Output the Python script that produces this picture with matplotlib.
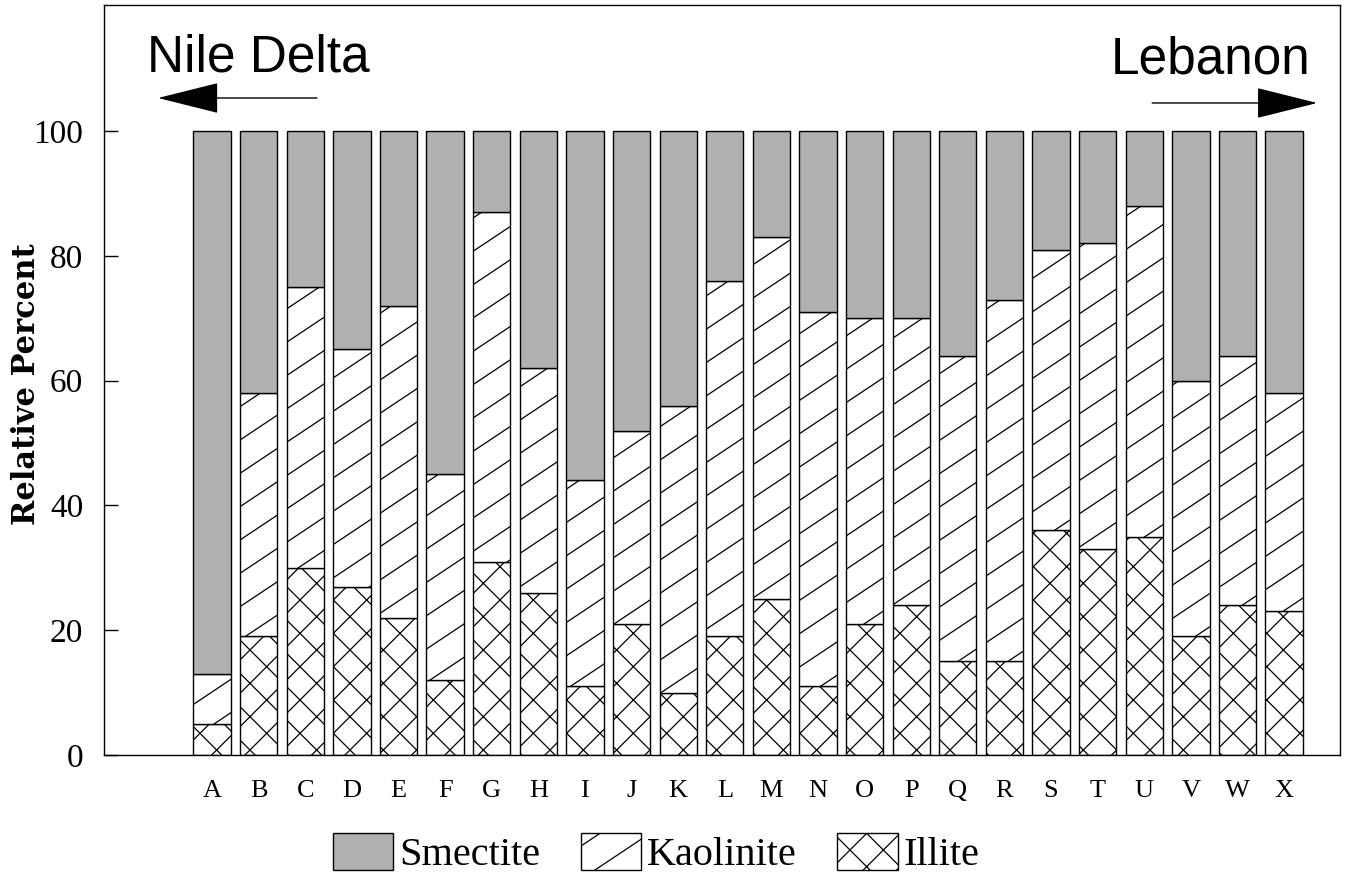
import numpy as np
import matplotlib
matplotlib.use('Agg')
import matplotlib.pyplot as plt
from matplotlib import hatch as mhatch
from matplotlib.path import Path
from matplotlib.patches import Patch

# Clay mineral data (percent)
stations = list('ABCDEFGHIJKLMNOPQRSTUVWX')
illite = [5, 19, 30, 27, 22, 12, 31, 26, 11, 21, 10, 19,
          25, 11, 21, 24, 15, 15, 36, 33, 35, 19, 24, 23]
# top of the kaolinite layer (illite + kaolinite)
kaol_top = [13, 58, 75, 65, 72, 45, 87, 62, 44, 52, 56, 76,
            83, 71, 70, 70, 64, 73, 81, 82, 88, 60, 64, 58]
kaolinite = [k - i for k, i in zip(kaol_top, illite)]
smectite = [100 - k for k in kaol_top]
yticks = [0, 20, 40, 60, 80, 100]


# The original kaolinite pattern is a sparse, shallow '/' hatch.
# Swap it in for '/' and keep the standard lines for 'x'.
class ShallowSlash(mhatch.HatchPatternBase):
    offsets = np.arange(-2, 4) / 3.0

    def __init__(self, hatch, density):
        self.num_vertices = 2 * len(self.offsets) if '/' in hatch else 0

    def set_vertices_and_codes(self, vertices, codes):
        vertices[0::2, 0] = 0.0
        vertices[0::2, 1] = self.offsets
        vertices[1::2, 0] = 1.0
        vertices[1::2, 1] = self.offsets + 2.0 / 3.0
        codes[0::2] = Path.MOVETO
        codes[1::2] = Path.LINETO


class CrossNE(mhatch.NorthEastHatch):
    def __init__(self, hatch, density):
        super().__init__(hatch.replace('/', ''), density)


mhatch._hatch_types = [CrossNE if t is mhatch.NorthEastHatch else t
                       for t in mhatch._hatch_types] + [ShallowSlash]

plt.rcParams['hatch.linewidth'] = 0.9
serif = 'Liberation Serif'
sans = 'Liberation Sans'

fig = plt.figure(figsize=(13.45, 8.82), dpi=100)
ax = fig.add_axes([0.0773, 0.144, 0.9190, 0.8503])

x = np.arange(len(stations))
w = 0.8
bar_kw = dict(width=w, edgecolor='black', linewidth=1.0)
smect_color = '#b0b0b0'

ax.bar(x, illite, color='white', hatch='x', **bar_kw)
ax.bar(x, kaolinite, bottom=illite, color='white', hatch='/', **bar_kw)
ax.bar(x, smectite, bottom=kaol_top, color=smect_color, **bar_kw)

ax.set_xlim(-2.32, 24.2)
ax.set_ylim(0, 120.2)
ax.set_yticks(yticks)
ax.set_xticks(x)
ax.set_xticklabels(stations, fontsize=19, family=serif)
ax.set_yticklabels([str(v) for v in yticks], fontsize=24, family=serif)
ax.tick_params(axis='y', direction='in', length=10, width=1, pad=15)
ax.tick_params(axis='x', length=0, pad=18)
for sp in ax.spines.values():
    sp.set_linewidth(1.0)

ax.set_ylabel('Relative Percent', fontsize=22, family='DejaVu Serif',
              fontweight='bold')
ax.yaxis.set_label_coords(-0.050, 0.495)

# direction annotations
arrow_kw = dict(arrowstyle='-|>,head_length=2.0,head_width=0.5',
                mutation_scale=20, lw=1.0, color='black', shrinkA=0, shrinkB=0)
ax.text(-1.39, 109.6, 'Nile Delta', fontsize=37, family=sans,
        ha='left', va='baseline')
ax.annotate('', xy=(-1.16, 105.3), xytext=(2.25, 105.3), arrowprops=arrow_kw)
ax.text(23.56, 109.3, 'Lebanon', fontsize=37, family=sans,
        ha='right', va='baseline')
ax.annotate('', xy=(23.71, 104.5), xytext=(20.17, 104.5), arrowprops=arrow_kw)

handles = [Patch(facecolor=smect_color, edgecolor='black', label='Smectite'),
           Patch(facecolor='white', edgecolor='black', hatch='/', label='Kaolinite'),
           Patch(facecolor='white', edgecolor='black', hatch='x', label='Illite')]
fig.legend(handles=handles, loc='lower center', bbox_to_anchor=(0.488, 0.0),
           ncol=3, frameon=False, prop={'family': serif, 'size': 29},
           handlelength=1.5, handleheight=1.05, handletextpad=0.15,
           columnspacing=1.0, borderaxespad=0.1, borderpad=0.1)

fig.savefig('out.png', dpi=100)
